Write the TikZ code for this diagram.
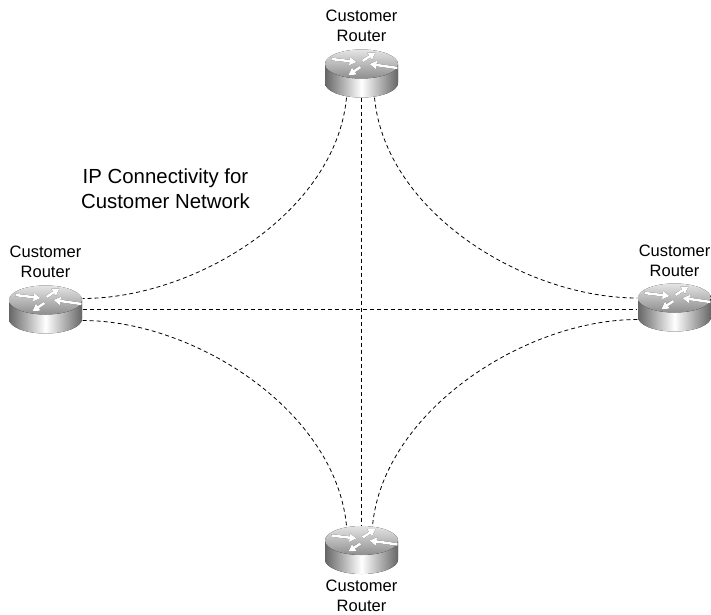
\documentclass[tikz,border=0pt]{standalone}
\usepackage{fontspec}
\setmainfont{Liberation Sans}
\usetikzlibrary{positioning,arrows.meta}
\definecolor{bodydark}{gray}{0.40}
\definecolor{toplight}{gray}{0.74}
\newcommand{\routerarrow}[2]{%
  \draw[black!85, line width=2.6pt, -{Triangle[width=8pt,length=7pt]}, shift={(0.6,-1.2)}] #1 -- #2;
  \draw[white, line width=2.6pt, -{Triangle[width=8pt,length=7pt]}] #1 -- #2;
}
\tikzset{
  router/.style={rectangle, minimum width=74pt, minimum height=48pt, inner sep=0pt,
    path picture={
      \begin{scope}[shift={(path picture bounding box.center)}, x=1pt, y=1pt]
        \fill[left color=bodydark, right color=bodydark, middle color=white, shading angle=90]
          (-36.5,9.5) -- (-36.5,-9.5) arc[start angle=180, end angle=360, x radius=36.5, y radius=14.5]
          -- (36.5,9.5) -- cycle;
        \fill[top color=white!60!toplight, bottom color=black!25!toplight]
          (0,9.5) ellipse[x radius=36.5, y radius=14.5];
        \routerarrow{(-30,14.5)}{(-5,11.5)}
        \routerarrow{(1,12.5)}{(14,21)}
        \routerarrow{(36,5.5)}{(8,9.5)}
        \routerarrow{(-1,6.5)}{(-13,-1.5)}
      \end{scope}
    }},
  caption/.style={font=\fontsize{16.5}{20}\selectfont, align=center},
  title/.style={font=\fontsize{20.4}{25}\selectfont, align=center},
  link/.style={dashed, dash pattern=on 4pt off 3pt, line width=0.8pt, black},
}
\begin{document}
\begin{tikzpicture}[x=1pt, y=1pt, on grid]
  \useasboundingbox (0,0) rectangle (711,614);
  \node[router] (routerTop) at (361.5,540.5) {};
  \node[router] (routerLeft) [below left=236pt and 316pt of routerTop] {};
  \node[router] (routerRight) [below right=234pt and 313pt of routerTop] {};
  \node[router] (routerBottom) [below=476.5pt of routerTop] {};

  \node[caption] (captionTop) [above=48pt of routerTop] {Customer\\Router};
  \node[caption] (captionLeft) [above=48pt of routerLeft] {Customer\\Router};
  \node[caption] (captionRight) [above=47pt of routerRight] {Customer\\Router};
  \node[caption] (captionBottom) [below=45.5pt of routerBottom] {Customer\\Router};
  \node[title] (titleText) at (165.5,425.5) {IP Connectivity for\\Customer Network};

  \draw[link] ([xshift=-15pt]routerTop.south) .. controls +(-11,-115) and +(112,0) .. ([yshift=11pt]routerLeft.east);
  \draw[link] ([xshift=13pt]routerTop.south) .. controls +(11,-115) and +(-112,0) .. ([yshift=9.5pt]routerRight.west);
  \draw[link] ([yshift=-11pt]routerLeft.east) .. controls +(112,0) and +(-11,115) .. ([xshift=-15pt]routerBottom.north);
  \draw[link] ([yshift=-12pt]routerRight.west) .. controls +(-112,0) and +(11,115) .. ([xshift=11pt]routerBottom.north);
  \draw[link] (routerTop.south) -- (routerBottom.north);
  \draw[link] (routerLeft.east) -- (routerLeft.east -| routerRight.west);
\end{tikzpicture}
\end{document}
